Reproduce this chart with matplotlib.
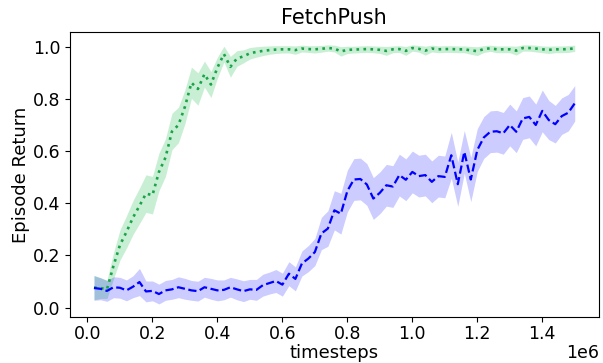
import numpy as np
import matplotlib
matplotlib.use('Agg')
import matplotlib.pyplot as plt

# evaluation every 20k timesteps
timesteps = np.arange(1, 76) * 20000

blue_mean = [0.075, 0.072, 0.064, 0.078, 0.076, 0.066, 0.080, 0.098, 0.062, 0.064,
             0.052, 0.066, 0.070, 0.078, 0.072, 0.066, 0.063, 0.078, 0.072, 0.066,
             0.068, 0.078, 0.070, 0.063, 0.070, 0.068, 0.086, 0.094, 0.102, 0.088,
             0.130, 0.110, 0.169, 0.188, 0.213, 0.284, 0.303, 0.373, 0.360, 0.447,
             0.491, 0.493, 0.472, 0.418, 0.440, 0.469, 0.464, 0.508, 0.490, 0.520,
             0.504, 0.508, 0.482, 0.504, 0.501, 0.584, 0.473, 0.597, 0.491, 0.604,
             0.652, 0.674, 0.676, 0.668, 0.700, 0.674, 0.725, 0.731, 0.700, 0.754,
             0.719, 0.703, 0.734, 0.747, 0.783]
blue_std = [0.047, 0.042, 0.040, 0.040, 0.040, 0.040, 0.042, 0.052, 0.040, 0.038,
            0.038, 0.038, 0.038, 0.040, 0.040, 0.038, 0.038, 0.038, 0.040, 0.040,
            0.038, 0.038, 0.040, 0.040, 0.038, 0.040, 0.042, 0.042, 0.044, 0.044,
            0.046, 0.046, 0.048, 0.050, 0.052, 0.062, 0.068, 0.075, 0.078, 0.080,
            0.080, 0.080, 0.080, 0.080, 0.080, 0.080, 0.080, 0.080, 0.080, 0.080,
            0.080, 0.080, 0.080, 0.080, 0.080, 0.088, 0.085, 0.082, 0.085, 0.082,
            0.080, 0.080, 0.080, 0.080, 0.080, 0.080, 0.080, 0.080, 0.080, 0.080,
            0.075, 0.072, 0.070, 0.070, 0.068]

green_mean = [0.077, 0.075, 0.070, 0.160, 0.240, 0.290, 0.345, 0.390, 0.437, 0.431,
              0.520, 0.575, 0.675, 0.700, 0.770, 0.862, 0.838, 0.895, 0.855, 0.920,
              0.972, 0.923, 0.955, 0.963, 0.975, 0.980, 0.984, 0.987, 0.989, 0.990,
              0.990, 0.987, 0.993, 0.991, 0.990, 0.992, 0.995, 0.993, 0.982, 0.988,
              0.989, 0.990, 0.991, 0.990, 0.988, 0.984, 0.990, 0.991, 0.984, 0.995,
              0.992, 0.985, 0.993, 0.990, 0.991, 0.991, 0.990, 0.990, 0.986, 0.983,
              0.991, 0.994, 0.990, 0.990, 0.990, 0.985, 0.995, 0.995, 0.993, 0.990,
              0.988, 0.990, 0.990, 0.991, 0.994]
green_std = [0.047, 0.040, 0.035, 0.050, 0.058, 0.062, 0.065, 0.068, 0.072, 0.072,
             0.072, 0.072, 0.070, 0.068, 0.065, 0.060, 0.062, 0.050, 0.050, 0.040,
             0.030, 0.040, 0.030, 0.025, 0.022, 0.020, 0.018, 0.016, 0.015, 0.014,
             0.014, 0.016, 0.013, 0.013, 0.014, 0.013, 0.012, 0.013, 0.018, 0.014,
             0.013, 0.013, 0.013, 0.013, 0.014, 0.017, 0.013, 0.013, 0.017, 0.012,
             0.013, 0.017, 0.013, 0.013, 0.013, 0.013, 0.013, 0.013, 0.015, 0.017,
             0.013, 0.012, 0.013, 0.013, 0.013, 0.017, 0.012, 0.012, 0.013, 0.013,
             0.014, 0.013, 0.013, 0.013, 0.012]

blue_mean = np.array(blue_mean)
blue_std = np.array(blue_std)
green_mean = np.array(green_mean)
green_std = np.array(green_std)

plt.figure(figsize=(6.03, 3.63), dpi=100)

plt.plot(timesteps, green_mean, ':', color='#1aa34a', linewidth=1.9)
plt.fill_between(timesteps, green_mean - green_std, green_mean + green_std,
                 color='#3cc864', alpha=0.28, linewidth=0)

plt.plot(timesteps, blue_mean, '--', color='blue', linewidth=1.6)
plt.fill_between(timesteps, blue_mean - blue_std, blue_mean + blue_std,
                 color='blue', alpha=0.2, linewidth=0)

plt.title('FetchPush', fontsize=15)
plt.xlabel('timesteps', fontsize=13, labelpad=0.5)
plt.ylabel('Episode Return', fontsize=13, labelpad=2)
plt.xticks(fontsize=12.5)
plt.yticks(fontsize=12.5)
plt.tick_params(axis='x', pad=2.5)
ax = plt.gca()
ax.xaxis.get_offset_text().set_fontsize(12.5)
ax.xaxis.OFFSETTEXTPAD = 0.5  # pull the 1e6 up so it fits

plt.subplots_adjust(left=0.116, right=0.993, top=0.912, bottom=0.127)
plt.savefig('out.png', dpi=100)
